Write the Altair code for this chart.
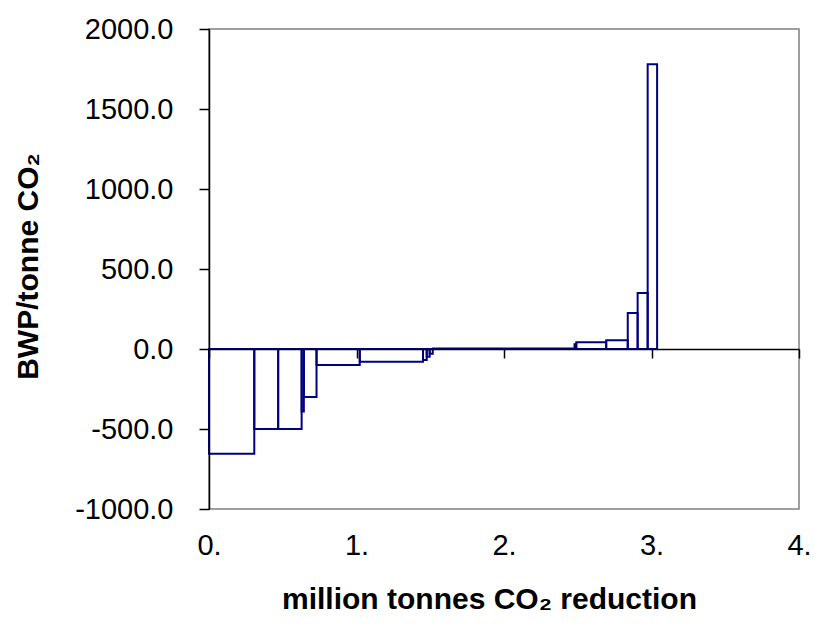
import altair as alt
import pandas as pd

# Marginal abatement cost curve: each measure's CO2 reduction (million tonnes) and cost (BWP/tonne CO2)
reduction = [0.307, 0.162, 0.159, 0.015, 0.086, 0.293, 0.429, 0.025, 0.020, 0.021,
             0.961, 0.012, 0.203, 0.146, 0.067, 0.068, 0.064]
cost = [-655, -500, -500, -390, -300, -100, -80, -68, -48, -30,
        3, 30, 42, 55, 225, 350, 1780]

x_ticks = [0, 1, 2, 3, 4]
y_ticks = [-1000, -500, 0, 500, 1000, 1500, 2000]

df = pd.DataFrame({"reduction": reduction, "cost": cost})
df["end"] = df["reduction"].cumsum()
df["start"] = df["end"] - df["reduction"]
df["zero"] = 0

FONT = "Liberation Sans"

chart = alt.Chart(df).mark_rect(
    fillOpacity=0, stroke="#000080", strokeWidth=2
).encode(
    x=alt.X(
        "start:Q",
        scale=alt.Scale(domain=[0, 4], nice=False, zero=False),
        axis=alt.Axis(
            values=x_ticks,
            labelExpr="datum.value + '.'",
            offset=-160,
            domainColor="black", domainWidth=1.5,
            tickColor="black", tickWidth=1.5, tickSize=9,
            labelPadding=173, labelFontSize=29, labelFlush=False, labelOverlap=False,
            grid=False, zindex=1,
            title="million tonnes CO₂ reduction",
            titleFontSize=30, titleFontWeight="bold",
            titleX=280, titleY=259, titleBaseline="alphabetic", titleAlign="center",
        ),
    ),
    x2="end:Q",
    y=alt.Y(
        "zero:Q",
        scale=alt.Scale(domain=[-1000, 2000], nice=False, zero=False),
        axis=alt.Axis(
            values=y_ticks,
            labelExpr="datum.value + '.0'",
            domainColor="black", domainWidth=1.5,
            tickColor="black", tickWidth=1.5, tickSize=10,
            labelPadding=26, labelFontSize=29,
            grid=False, zindex=1,
            title="BWP/tonne CO₂",
            titleFontSize=30, titleFontWeight="bold",
            titleX=-172, titleY=237, titleBaseline="alphabetic", titleAlign="center",
            titleAngle=270,
        ),
    ),
    y2="cost:Q",
).properties(
    width=590,
    height=480,
    autosize=alt.AutoSizeParams(type="none"),
    padding={"left": 209, "top": 29, "right": 16, "bottom": 118},
).configure_view(
    stroke="#808080", strokeWidth=1.5
).configure_axis(
    labelFont=FONT, titleFont=FONT, labelColor="black", titleColor="black"
)

chart.save("out.html", embed_options={"renderer": "svg", "actions": False})
